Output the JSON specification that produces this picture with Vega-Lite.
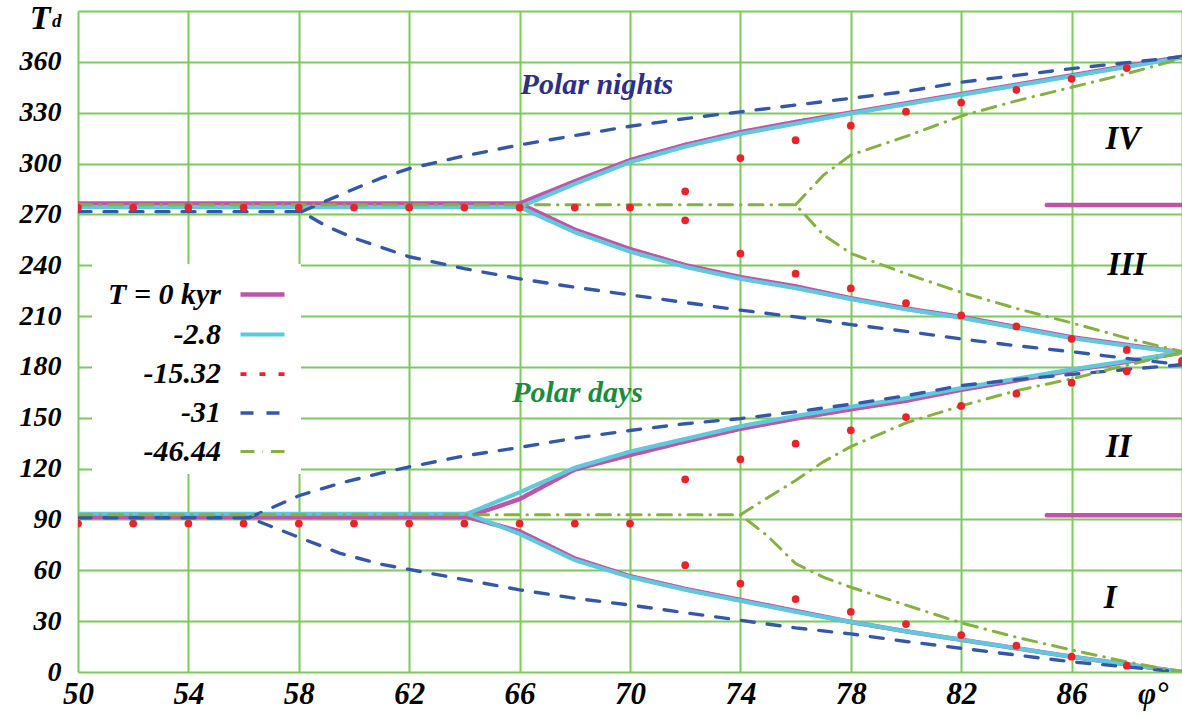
{
  "$schema": "https://vega.github.io/schema/vega-lite/v6.json",
  "width": 1104,
  "height": 661,
  "autosize": {"type": "none"},
  "padding": {"left": 78, "top": 11, "right": 0, "bottom": 43},
  "background": "white",
  "config": {
    "view": {"stroke": null},
    "font": "Liberation Serif, Times New Roman, DejaVu Serif, serif",
    "axis": {
      "labelFont": "Liberation Serif, Times New Roman, DejaVu Serif, serif",
      "labelFontStyle": "italic",
      "labelFontWeight": "bold",
      "labelColor": "black",
      "titleFont": "Liberation Serif, Times New Roman, DejaVu Serif, serif",
      "titleFontStyle": "italic",
      "titleFontWeight": "bold",
      "titleColor": "black",
      "gridColor": "#7dc95e",
      "gridWidth": 2,
      "gridOpacity": 1,
      "domain": false,
      "ticks": false
    },
    "legend": {
      "labelFont": "Liberation Serif, Times New Roman, DejaVu Serif, serif",
      "labelFontStyle": "italic",
      "labelFontWeight": "bold",
      "labelColor": "black"
    }
  },
  "datasets": {
    "curves": [
      {"s": "T = 0 kyr", "b": "A1", "x": 50, "y": 91.5},
      {"s": "T = 0 kyr", "b": "A1", "x": 64.1, "y": 91.5},
      {"s": "T = 0 kyr", "b": "A1", "x": 66, "y": 83},
      {"s": "T = 0 kyr", "b": "A1", "x": 68, "y": 67},
      {"s": "T = 0 kyr", "b": "A1", "x": 70, "y": 56.5},
      {"s": "T = 0 kyr", "b": "A1", "x": 72, "y": 49},
      {"s": "T = 0 kyr", "b": "A1", "x": 74, "y": 42.5},
      {"s": "T = 0 kyr", "b": "A1", "x": 76, "y": 36},
      {"s": "T = 0 kyr", "b": "A1", "x": 78, "y": 29.5},
      {"s": "T = 0 kyr", "b": "A1", "x": 80, "y": 24},
      {"s": "T = 0 kyr", "b": "A1", "x": 82, "y": 19},
      {"s": "T = 0 kyr", "b": "A1", "x": 84, "y": 14},
      {"s": "T = 0 kyr", "b": "A1", "x": 86, "y": 9},
      {"s": "T = 0 kyr", "b": "A1", "x": 88, "y": 4.5},
      {"s": "T = 0 kyr", "b": "A1", "x": 90, "y": 0},
      {"s": "T = 0 kyr", "b": "A2", "x": 64.1, "y": 91.5},
      {"s": "T = 0 kyr", "b": "A2", "x": 66, "y": 102},
      {"s": "T = 0 kyr", "b": "A2", "x": 68, "y": 119.5},
      {"s": "T = 0 kyr", "b": "A2", "x": 70, "y": 128},
      {"s": "T = 0 kyr", "b": "A2", "x": 72, "y": 136},
      {"s": "T = 0 kyr", "b": "A2", "x": 74, "y": 143.5},
      {"s": "T = 0 kyr", "b": "A2", "x": 76, "y": 149.5},
      {"s": "T = 0 kyr", "b": "A2", "x": 78, "y": 155},
      {"s": "T = 0 kyr", "b": "A2", "x": 80, "y": 160},
      {"s": "T = 0 kyr", "b": "A2", "x": 82, "y": 166.5},
      {"s": "T = 0 kyr", "b": "A2", "x": 84, "y": 172},
      {"s": "T = 0 kyr", "b": "A2", "x": 86, "y": 178},
      {"s": "T = 0 kyr", "b": "A2", "x": 88, "y": 183},
      {"s": "T = 0 kyr", "b": "A2", "x": 90, "y": 188.5},
      {"s": "T = 0 kyr", "b": "B1", "x": 50, "y": 276.4},
      {"s": "T = 0 kyr", "b": "B1", "x": 66, "y": 276.4},
      {"s": "T = 0 kyr", "b": "B1", "x": 68, "y": 261},
      {"s": "T = 0 kyr", "b": "B1", "x": 70, "y": 249.5},
      {"s": "T = 0 kyr", "b": "B1", "x": 72, "y": 240},
      {"s": "T = 0 kyr", "b": "B1", "x": 74, "y": 233},
      {"s": "T = 0 kyr", "b": "B1", "x": 76, "y": 227.5},
      {"s": "T = 0 kyr", "b": "B1", "x": 78, "y": 220.5},
      {"s": "T = 0 kyr", "b": "B1", "x": 80, "y": 214.5},
      {"s": "T = 0 kyr", "b": "B1", "x": 82, "y": 209.5},
      {"s": "T = 0 kyr", "b": "B1", "x": 84, "y": 203.5},
      {"s": "T = 0 kyr", "b": "B1", "x": 86, "y": 197.5},
      {"s": "T = 0 kyr", "b": "B1", "x": 88, "y": 193},
      {"s": "T = 0 kyr", "b": "B1", "x": 90, "y": 188.5},
      {"s": "T = 0 kyr", "b": "B2", "x": 66, "y": 276.4},
      {"s": "T = 0 kyr", "b": "B2", "x": 68, "y": 289.5},
      {"s": "T = 0 kyr", "b": "B2", "x": 70, "y": 302},
      {"s": "T = 0 kyr", "b": "B2", "x": 72, "y": 311},
      {"s": "T = 0 kyr", "b": "B2", "x": 74, "y": 318.5},
      {"s": "T = 0 kyr", "b": "B2", "x": 76, "y": 324.5},
      {"s": "T = 0 kyr", "b": "B2", "x": 78, "y": 330},
      {"s": "T = 0 kyr", "b": "B2", "x": 80, "y": 335.5},
      {"s": "T = 0 kyr", "b": "B2", "x": 82, "y": 341},
      {"s": "T = 0 kyr", "b": "B2", "x": 84, "y": 346.5},
      {"s": "T = 0 kyr", "b": "B2", "x": 86, "y": 352},
      {"s": "T = 0 kyr", "b": "B2", "x": 88, "y": 357.5},
      {"s": "T = 0 kyr", "b": "B2", "x": 90, "y": 363},
      {"s": "T = 0 kyr", "b": "C", "x": 85.1, "y": 275.5},
      {"s": "T = 0 kyr", "b": "C", "x": 90, "y": 275.5},
      {"s": "T = 0 kyr", "b": "D", "x": 85.1, "y": 92.5},
      {"s": "T = 0 kyr", "b": "D", "x": 90, "y": 92.5},

      {"s": "-2.8", "b": "A1", "x": 50, "y": 93.4},
      {"s": "-2.8", "b": "A1", "x": 64.1, "y": 93.4},
      {"s": "-2.8", "b": "A1", "x": 66, "y": 81.5},
      {"s": "-2.8", "b": "A1", "x": 68, "y": 66},
      {"s": "-2.8", "b": "A1", "x": 70, "y": 56},
      {"s": "-2.8", "b": "A1", "x": 72, "y": 48.5},
      {"s": "-2.8", "b": "A1", "x": 74, "y": 42},
      {"s": "-2.8", "b": "A1", "x": 76, "y": 35.5},
      {"s": "-2.8", "b": "A1", "x": 78, "y": 29.5},
      {"s": "-2.8", "b": "A1", "x": 80, "y": 24},
      {"s": "-2.8", "b": "A1", "x": 82, "y": 19},
      {"s": "-2.8", "b": "A1", "x": 84, "y": 14},
      {"s": "-2.8", "b": "A1", "x": 86, "y": 9},
      {"s": "-2.8", "b": "A1", "x": 88, "y": 4.5},
      {"s": "-2.8", "b": "A1", "x": 90, "y": 0},
      {"s": "-2.8", "b": "A2", "x": 64.1, "y": 93.4},
      {"s": "-2.8", "b": "A2", "x": 66, "y": 106},
      {"s": "-2.8", "b": "A2", "x": 68, "y": 120.5},
      {"s": "-2.8", "b": "A2", "x": 70, "y": 130},
      {"s": "-2.8", "b": "A2", "x": 72, "y": 137.5},
      {"s": "-2.8", "b": "A2", "x": 74, "y": 145},
      {"s": "-2.8", "b": "A2", "x": 76, "y": 151},
      {"s": "-2.8", "b": "A2", "x": 78, "y": 156.5},
      {"s": "-2.8", "b": "A2", "x": 80, "y": 161.5},
      {"s": "-2.8", "b": "A2", "x": 82, "y": 167.5},
      {"s": "-2.8", "b": "A2", "x": 84, "y": 173},
      {"s": "-2.8", "b": "A2", "x": 86, "y": 178.5},
      {"s": "-2.8", "b": "A2", "x": 88, "y": 183.5},
      {"s": "-2.8", "b": "A2", "x": 90, "y": 188.5},
      {"s": "-2.8", "b": "B1", "x": 50, "y": 274.3},
      {"s": "-2.8", "b": "B1", "x": 66, "y": 274.3},
      {"s": "-2.8", "b": "B1", "x": 68, "y": 259.5},
      {"s": "-2.8", "b": "B1", "x": 70, "y": 248},
      {"s": "-2.8", "b": "B1", "x": 72, "y": 239},
      {"s": "-2.8", "b": "B1", "x": 74, "y": 232},
      {"s": "-2.8", "b": "B1", "x": 76, "y": 226.5},
      {"s": "-2.8", "b": "B1", "x": 78, "y": 220},
      {"s": "-2.8", "b": "B1", "x": 80, "y": 214},
      {"s": "-2.8", "b": "B1", "x": 82, "y": 209},
      {"s": "-2.8", "b": "B1", "x": 84, "y": 203},
      {"s": "-2.8", "b": "B1", "x": 86, "y": 197},
      {"s": "-2.8", "b": "B1", "x": 88, "y": 192.5},
      {"s": "-2.8", "b": "B1", "x": 90, "y": 188.5},
      {"s": "-2.8", "b": "B2", "x": 66, "y": 274.3},
      {"s": "-2.8", "b": "B2", "x": 68, "y": 288},
      {"s": "-2.8", "b": "B2", "x": 70, "y": 300.8},
      {"s": "-2.8", "b": "B2", "x": 72, "y": 310},
      {"s": "-2.8", "b": "B2", "x": 74, "y": 317.5},
      {"s": "-2.8", "b": "B2", "x": 76, "y": 323.5},
      {"s": "-2.8", "b": "B2", "x": 78, "y": 329.5},
      {"s": "-2.8", "b": "B2", "x": 80, "y": 335},
      {"s": "-2.8", "b": "B2", "x": 82, "y": 340.5},
      {"s": "-2.8", "b": "B2", "x": 84, "y": 346},
      {"s": "-2.8", "b": "B2", "x": 86, "y": 351.5},
      {"s": "-2.8", "b": "B2", "x": 88, "y": 357},
      {"s": "-2.8", "b": "B2", "x": 90, "y": 362.5},

      {"s": "-31", "b": "A1", "x": 50, "y": 91},
      {"s": "-31", "b": "A1", "x": 56.2, "y": 91},
      {"s": "-31", "b": "A1", "x": 58, "y": 79.5},
      {"s": "-31", "b": "A1", "x": 59.5, "y": 70},
      {"s": "-31", "b": "A1", "x": 61, "y": 63.5},
      {"s": "-31", "b": "A1", "x": 62, "y": 60.5},
      {"s": "-31", "b": "A1", "x": 64, "y": 54.5},
      {"s": "-31", "b": "A1", "x": 66, "y": 48.5},
      {"s": "-31", "b": "A1", "x": 68, "y": 43.5},
      {"s": "-31", "b": "A1", "x": 70, "y": 39.5},
      {"s": "-31", "b": "A1", "x": 72, "y": 35},
      {"s": "-31", "b": "A1", "x": 74, "y": 30.5},
      {"s": "-31", "b": "A1", "x": 76, "y": 26},
      {"s": "-31", "b": "A1", "x": 78, "y": 22.5},
      {"s": "-31", "b": "A1", "x": 80, "y": 18},
      {"s": "-31", "b": "A1", "x": 82, "y": 14},
      {"s": "-31", "b": "A1", "x": 84, "y": 10},
      {"s": "-31", "b": "A1", "x": 86, "y": 6},
      {"s": "-31", "b": "A1", "x": 88, "y": 3},
      {"s": "-31", "b": "A1", "x": 90, "y": 0},
      {"s": "-31", "b": "A2", "x": 56.2, "y": 91},
      {"s": "-31", "b": "A2", "x": 58, "y": 104},
      {"s": "-31", "b": "A2", "x": 59.5, "y": 111.4},
      {"s": "-31", "b": "A2", "x": 61, "y": 117.5},
      {"s": "-31", "b": "A2", "x": 62, "y": 121},
      {"s": "-31", "b": "A2", "x": 64, "y": 127.5},
      {"s": "-31", "b": "A2", "x": 66, "y": 132.5},
      {"s": "-31", "b": "A2", "x": 68, "y": 138},
      {"s": "-31", "b": "A2", "x": 70, "y": 142.5},
      {"s": "-31", "b": "A2", "x": 72, "y": 146.5},
      {"s": "-31", "b": "A2", "x": 74, "y": 149.5},
      {"s": "-31", "b": "A2", "x": 76, "y": 153.5},
      {"s": "-31", "b": "A2", "x": 78, "y": 158},
      {"s": "-31", "b": "A2", "x": 80, "y": 163},
      {"s": "-31", "b": "A2", "x": 82, "y": 169},
      {"s": "-31", "b": "A2", "x": 84, "y": 172.5},
      {"s": "-31", "b": "A2", "x": 86, "y": 175.6},
      {"s": "-31", "b": "A2", "x": 88, "y": 178.5},
      {"s": "-31", "b": "A2", "x": 90, "y": 181.3},
      {"s": "-31", "b": "B1", "x": 50, "y": 271.6},
      {"s": "-31", "b": "B1", "x": 58.1, "y": 271.6},
      {"s": "-31", "b": "B1", "x": 59, "y": 263},
      {"s": "-31", "b": "B1", "x": 60, "y": 256},
      {"s": "-31", "b": "B1", "x": 61, "y": 250.5},
      {"s": "-31", "b": "B1", "x": 62, "y": 245},
      {"s": "-31", "b": "B1", "x": 64, "y": 238},
      {"s": "-31", "b": "B1", "x": 66, "y": 232},
      {"s": "-31", "b": "B1", "x": 68, "y": 227},
      {"s": "-31", "b": "B1", "x": 70, "y": 222.5},
      {"s": "-31", "b": "B1", "x": 72, "y": 218},
      {"s": "-31", "b": "B1", "x": 74, "y": 213.5},
      {"s": "-31", "b": "B1", "x": 76, "y": 209.5},
      {"s": "-31", "b": "B1", "x": 78, "y": 205},
      {"s": "-31", "b": "B1", "x": 80, "y": 201},
      {"s": "-31", "b": "B1", "x": 82, "y": 196.5},
      {"s": "-31", "b": "B1", "x": 84, "y": 192.5},
      {"s": "-31", "b": "B1", "x": 86, "y": 189},
      {"s": "-31", "b": "B1", "x": 88, "y": 185},
      {"s": "-31", "b": "B1", "x": 90, "y": 181.3},
      {"s": "-31", "b": "B2", "x": 58.1, "y": 271.6},
      {"s": "-31", "b": "B2", "x": 59, "y": 278},
      {"s": "-31", "b": "B2", "x": 60, "y": 285},
      {"s": "-31", "b": "B2", "x": 61, "y": 291.5},
      {"s": "-31", "b": "B2", "x": 62, "y": 297},
      {"s": "-31", "b": "B2", "x": 64, "y": 304.5},
      {"s": "-31", "b": "B2", "x": 66, "y": 311},
      {"s": "-31", "b": "B2", "x": 68, "y": 316.5},
      {"s": "-31", "b": "B2", "x": 70, "y": 322},
      {"s": "-31", "b": "B2", "x": 72, "y": 326.5},
      {"s": "-31", "b": "B2", "x": 74, "y": 330.5},
      {"s": "-31", "b": "B2", "x": 76, "y": 334.5},
      {"s": "-31", "b": "B2", "x": 78, "y": 338.5},
      {"s": "-31", "b": "B2", "x": 80, "y": 342.5},
      {"s": "-31", "b": "B2", "x": 82, "y": 348},
      {"s": "-31", "b": "B2", "x": 84, "y": 352},
      {"s": "-31", "b": "B2", "x": 86, "y": 356},
      {"s": "-31", "b": "B2", "x": 88, "y": 359.5},
      {"s": "-31", "b": "B2", "x": 90, "y": 363},

      {"s": "-46.44", "b": "A1", "x": 50, "y": 92.8},
      {"s": "-46.44", "b": "A1", "x": 74, "y": 92.8},
      {"s": "-46.44", "b": "A1", "x": 75, "y": 80},
      {"s": "-46.44", "b": "A1", "x": 76, "y": 64},
      {"s": "-46.44", "b": "A1", "x": 77, "y": 56},
      {"s": "-46.44", "b": "A1", "x": 78, "y": 50},
      {"s": "-46.44", "b": "A1", "x": 80, "y": 39.5},
      {"s": "-46.44", "b": "A1", "x": 82, "y": 29},
      {"s": "-46.44", "b": "A1", "x": 84, "y": 20.5},
      {"s": "-46.44", "b": "A1", "x": 86, "y": 13},
      {"s": "-46.44", "b": "A1", "x": 88, "y": 6},
      {"s": "-46.44", "b": "A1", "x": 90, "y": 0},
      {"s": "-46.44", "b": "A2", "x": 74, "y": 92.8},
      {"s": "-46.44", "b": "A2", "x": 75, "y": 103},
      {"s": "-46.44", "b": "A2", "x": 76, "y": 113},
      {"s": "-46.44", "b": "A2", "x": 77, "y": 124},
      {"s": "-46.44", "b": "A2", "x": 78, "y": 133},
      {"s": "-46.44", "b": "A2", "x": 80, "y": 147},
      {"s": "-46.44", "b": "A2", "x": 82, "y": 157},
      {"s": "-46.44", "b": "A2", "x": 84, "y": 166},
      {"s": "-46.44", "b": "A2", "x": 86, "y": 173},
      {"s": "-46.44", "b": "A2", "x": 88, "y": 181},
      {"s": "-46.44", "b": "A2", "x": 90, "y": 188.5},
      {"s": "-46.44", "b": "B1", "x": 50, "y": 275.7},
      {"s": "-46.44", "b": "B1", "x": 76, "y": 275.7},
      {"s": "-46.44", "b": "B1", "x": 77, "y": 258},
      {"s": "-46.44", "b": "B1", "x": 78, "y": 247},
      {"s": "-46.44", "b": "B1", "x": 80, "y": 235},
      {"s": "-46.44", "b": "B1", "x": 82, "y": 224},
      {"s": "-46.44", "b": "B1", "x": 84, "y": 214.5},
      {"s": "-46.44", "b": "B1", "x": 86, "y": 206},
      {"s": "-46.44", "b": "B1", "x": 88, "y": 197},
      {"s": "-46.44", "b": "B1", "x": 90, "y": 189},
      {"s": "-46.44", "b": "B2", "x": 76, "y": 275.7},
      {"s": "-46.44", "b": "B2", "x": 77, "y": 293},
      {"s": "-46.44", "b": "B2", "x": 78, "y": 305},
      {"s": "-46.44", "b": "B2", "x": 80, "y": 316},
      {"s": "-46.44", "b": "B2", "x": 82, "y": 328},
      {"s": "-46.44", "b": "B2", "x": 84, "y": 337},
      {"s": "-46.44", "b": "B2", "x": 86, "y": 345},
      {"s": "-46.44", "b": "B2", "x": 88, "y": 353},
      {"s": "-46.44", "b": "B2", "x": 90, "y": 362}
    ],
    "dots": [
      {"x": 50, "y": 87.6}, {"x": 52, "y": 87.6}, {"x": 54, "y": 87.6}, {"x": 56, "y": 87.6},
      {"x": 58, "y": 87.6}, {"x": 60, "y": 87.6}, {"x": 62, "y": 87.6}, {"x": 64, "y": 87.6},
      {"x": 66, "y": 87.6}, {"x": 68, "y": 87.6}, {"x": 70, "y": 87.6},
      {"x": 72, "y": 63}, {"x": 72, "y": 113.7},
      {"x": 74, "y": 52.2}, {"x": 74, "y": 125.5},
      {"x": 76, "y": 43}, {"x": 76, "y": 134.7},
      {"x": 78, "y": 35.5}, {"x": 78, "y": 142.6},
      {"x": 80, "y": 28.3}, {"x": 80, "y": 150.4},
      {"x": 82, "y": 21.8}, {"x": 82, "y": 157},
      {"x": 84, "y": 15.5}, {"x": 84, "y": 164.2},
      {"x": 86, "y": 9}, {"x": 86, "y": 170.7},
      {"x": 88, "y": 3.7}, {"x": 88, "y": 177.4},
      {"x": 50, "y": 274}, {"x": 52, "y": 274}, {"x": 54, "y": 274}, {"x": 56, "y": 274},
      {"x": 58, "y": 274}, {"x": 60, "y": 274}, {"x": 62, "y": 274}, {"x": 64, "y": 274},
      {"x": 66, "y": 274}, {"x": 68, "y": 274}, {"x": 70, "y": 274},
      {"x": 72, "y": 266.5}, {"x": 72, "y": 283.6},
      {"x": 74, "y": 246.8}, {"x": 74, "y": 303.2},
      {"x": 76, "y": 235}, {"x": 76, "y": 313.8},
      {"x": 78, "y": 226.3}, {"x": 78, "y": 322.3},
      {"x": 80, "y": 217.6}, {"x": 80, "y": 330.6},
      {"x": 82, "y": 210.4}, {"x": 82, "y": 336},
      {"x": 84, "y": 203.9}, {"x": 84, "y": 343.5},
      {"x": 86, "y": 196.6}, {"x": 86, "y": 350},
      {"x": 88, "y": 190}, {"x": 88, "y": 356.3},
      {"x": 90, "y": 183.5}
    ]
  },
  "layer": [
    {
      "data": {"name": "curves"},
      "mark": {"type": "line", "strokeCap": "round", "clip": true},
      "encoding": {
        "x": {
          "field": "x", "type": "quantitative",
          "scale": {"domain": [50, 90], "nice": false, "zero": false},
          "axis": {
            "title": null,
            "values": [50, 54, 58, 62, 66, 70, 74, 78, 82, 86, 90],
            "labelExpr": "datum.value == 90 ? 'φ°' : datum.label",
            "labelFontSize": 31,
            "labelPadding": 7,
            "labelFlush": false,
            "labelAlign": {"condition": {"test": "datum.value == 90", "value": "right"}, "value": "center"},
            "labelOffset": {"condition": {"test": "datum.value == 90", "value": -14}, "value": 0}
          }
        },
        "y": {
          "field": "y", "type": "quantitative",
          "scale": {"domain": [0, 390], "nice": false, "zero": false},
          "axis": {
            "title": "T",
            "titleAngle": 0,
            "titleFontSize": 34,
            "titleAlign": "right",
            "titleBaseline": "alphabetic",
            "titleX": -28,
            "titleY": 17,
            "values": [0, 30, 60, 90, 120, 150, 180, 210, 240, 270, 300, 330, 360, 390],
            "labelExpr": "datum.value == 390 ? 'd' : datum.label",
            "labelFontSize": {"condition": {"test": "datum.value == 390", "value": 19}, "value": 28},
            "labelBaseline": {"condition": {"test": "datum.value == 390", "value": "top"}, "value": "middle"},
            "labelPadding": 17
          }
        },
        "color": {
          "field": "s", "type": "nominal",
          "scale": {
            "domain": ["T = 0 kyr", "-2.8", "-15.32", "-31", "-46.44"],
            "range": ["#bf55a9", "#5fc8dc", "#ea2229", "#3457a8", "#86b040"]
          },
          "legend": {
            "title": null,
            "orient": "none",
            "legendX": 14,
            "legendY": 253,
            "fillColor": "white",
            "strokeColor": "white",
            "padding": 6,
            "symbolType": "stroke",
            "symbolSize": 1936,
            "symbolOffset": 140,
            "labelFontSize": 30,
            "labelAlign": "right",
            "labelOffset": -66,
            "rowPadding": -6,
            "labelLimit": 300
          }
        },
        "strokeDash": {
          "field": "s", "type": "nominal",
          "scale": {
            "domain": ["T = 0 kyr", "-2.8", "-15.32", "-31", "-46.44"],
            "range": [[1, 0], [1, 0], [6, 13], [13, 13], [14, 8, 0.5, 8]]
          },
          "legend": null
        },
        "strokeWidth": {
          "field": "s", "type": "nominal",
          "scale": {
            "domain": ["T = 0 kyr", "-2.8", "-15.32", "-31", "-46.44"],
            "range": [4.5, 3, 7, 3, 3]
          },
          "legend": null
        },
        "detail": {"field": "b", "type": "nominal"}
      }
    },
    {
      "data": {"name": "dots"},
      "mark": {"type": "circle", "color": "#ea2229", "opacity": 1, "size": 60, "clip": true},
      "encoding": {
        "x": {"field": "x", "type": "quantitative"},
        "y": {"field": "y", "type": "quantitative"}
      }
    },
    {
      "data": {"values": [{"x": 68.8, "y": 346.5, "t": "Polar nights"}]},
      "mark": {"type": "text", "font": "Liberation Serif, Times New Roman, DejaVu Serif, serif", "fontStyle": "italic", "fontWeight": "bold", "fontSize": 30, "color": "#2b2f85", "baseline": "middle"},
      "encoding": {
        "x": {"field": "x", "type": "quantitative"},
        "y": {"field": "y", "type": "quantitative"},
        "text": {"field": "t"}
      }
    },
    {
      "data": {"values": [{"x": 68.1, "y": 164.4, "t": "Polar days"}]},
      "mark": {"type": "text", "font": "Liberation Serif, Times New Roman, DejaVu Serif, serif", "fontStyle": "italic", "fontWeight": "bold", "fontSize": 30, "color": "#1d8a3d", "baseline": "middle"},
      "encoding": {
        "x": {"field": "x", "type": "quantitative"},
        "y": {"field": "y", "type": "quantitative"},
        "text": {"field": "t"}
      }
    },
    {
      "data": {"values": [
        {"x": 87.86, "y": 314.7, "t": "IV"},
        {"x": 88.0, "y": 240, "t": "III"},
        {"x": 87.7, "y": 132.6, "t": "II"},
        {"x": 87.4, "y": 43.6, "t": "I"}
      ]},
      "mark": {"type": "text", "font": "Liberation Serif, Times New Roman, DejaVu Serif, serif", "fontStyle": "italic", "fontWeight": "bold", "fontSize": 33, "color": "black", "baseline": "middle"},
      "encoding": {
        "x": {"field": "x", "type": "quantitative"},
        "y": {"field": "y", "type": "quantitative"},
        "text": {"field": "t"}
      }
    }
  ]
}
